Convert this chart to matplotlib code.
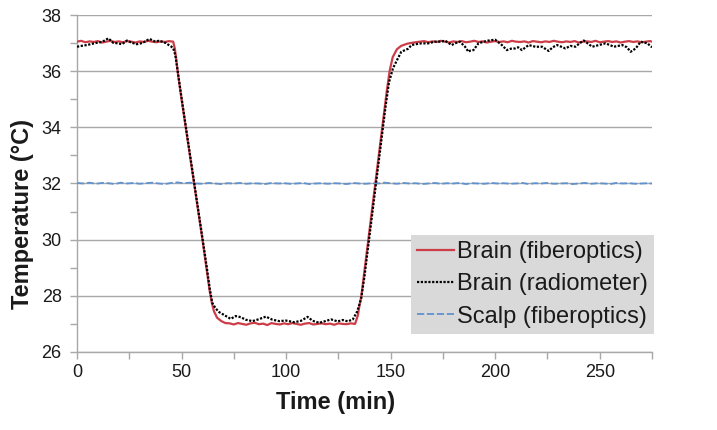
import numpy as np
import matplotlib
matplotlib.use("Agg")
import matplotlib.pyplot as plt

plt.rcParams['font.family'] = ['Liberation Sans', 'DejaVu Sans']

# ---------------- data ----------------
# Brain (fiberoptics)
fib_plateau1_t = list(range(0, 47, 2))
fib_plateau1_T = [37.05, 37.08, 37.03, 37.06, 37.04, 37.07, 37.02, 37.05, 37.08, 37.04,
                  37.06, 37.03, 37.07, 37.05, 37.02, 37.06, 37.04, 37.08, 37.05, 37.03,
                  37.06, 37.04, 37.07, 37.05]
fib_down_t = [46.8, 47.5, 48.2, 50, 52, 54, 56, 58, 60, 62, 63.5, 64.5, 65.5, 67, 69, 71]
fib_down_T = [36.8, 36.4, 35.95, 35.0, 34.0, 33.0, 32.0, 31.0, 30.0, 28.95, 28.15, 27.75,
              27.45, 27.22, 27.1, 27.03]
fib_bottom_t = list(range(73, 134, 2))
fib_bottom_T = [27.02, 26.98, 27.03, 27.0, 26.97, 27.02, 27.04, 26.99, 27.01, 26.96,
                27.03, 27.0, 26.98, 27.02, 26.99, 27.03, 27.0, 26.97, 27.01, 27.03,
                26.98, 27.0, 27.02, 26.99, 27.01, 26.97, 27.02, 27.0, 26.99, 27.02, 27.0]
fib_up_t = [134.3, 135.2, 136, 138, 140, 142, 144, 146, 148, 149.5, 151, 153, 155, 158, 161]
fib_up_T = [27.3, 27.7, 28.0, 29.2, 30.4, 31.6, 32.8, 34.0, 35.2, 36.0, 36.5, 36.78, 36.9,
            36.98, 37.02]
fib_plateau2_t = list(range(164, 275, 2)) + [275]
fib_plateau2_T = [37.05, 37.07, 37.03, 37.06, 37.04, 37.08, 37.05, 37.02, 37.06, 37.04,
                  37.07, 37.03, 37.05, 37.08, 37.04, 37.06, 37.02, 37.05, 37.07, 37.04,
                  37.06, 37.03, 37.08, 37.05, 37.04, 37.06, 37.02, 37.07, 37.05, 37.03,
                  37.06, 37.04, 37.08, 37.05, 37.03, 37.06, 37.04, 37.07, 37.02, 37.05,
                  37.06, 37.04, 37.08, 37.03, 37.05, 37.07, 37.04, 37.06, 37.02, 37.05,
                  37.07, 37.04, 37.06, 37.03, 37.05, 37.07, 37.05]

# Brain (radiometer)
rad_t = [0, 2, 4.7, 7, 9.5, 12, 14.3, 15, 17.3, 19.5, 21.5, 23.9, 26.3, 28.7, 30.5, 31.9,
         33.5, 34.7, 36, 37.5, 39, 40.7, 42.5, 43.9, 45, 46, 47, 48.2, 50, 52, 54, 56, 58,
         60, 62, 63.5, 64.7, 66.3, 68, 70.3, 73.5, 75.9, 78.3, 80.7, 83.9, 87.1, 90.3, 93.5,
         96.7, 99.9, 103.9, 107.1, 110.3, 112.7, 115.9, 118.3, 121.5, 124.7, 127.1, 129.5,
         131.9, 134, 135.9, 137.5, 139.5, 141.5, 143.5, 145.5, 147.5, 149.2, 151.1, 153.5,
         155.1, 158.4, 160, 162, 164.7, 168, 171.1, 174.3, 176, 179.2, 180.7, 183.1, 185.6,
         187.2, 188, 189.6, 192, 194.5, 196.8, 200, 203.2, 205.6, 207.5, 209.6, 211, 212.8,
         216, 219.2, 222.4, 225.6, 227.5, 229.6, 233.6, 236, 238.4, 240.5, 242.4, 246.4,
         249.6, 252.8, 256.8, 260.8, 263, 264.8, 267.2, 269.6, 272.8, 275]
rad_T = [36.87, 36.9, 36.93, 36.97, 37.01, 37.04, 37.14, 37.17, 37.01, 36.99, 36.96, 37.09,
         37.01, 36.96, 36.99, 37.03, 37.1, 37.15, 37.1, 37.05, 37.08, 37.05, 37.0, 36.93,
         36.88, 36.82, 36.58, 35.98, 35.05, 34.05, 33.05, 32.05, 31.05, 30.05, 29.05, 28.25,
         27.75, 27.55, 27.42, 27.32, 27.18, 27.28, 27.24, 27.15, 27.1, 27.17, 27.26, 27.15,
         27.1, 27.12, 27.06, 27.11, 27.25, 27.11, 27.04, 27.09, 27.16, 27.09, 27.14, 27.09,
         27.16, 27.44, 27.9, 28.7, 29.9, 31.1, 32.3, 33.5, 34.7, 35.6, 36.1, 36.46, 36.69,
         36.8, 36.93, 36.96, 36.99, 36.99, 37.05, 37.05, 37.09, 36.93, 36.99, 37.05, 36.87,
         36.69, 36.73, 36.75, 36.99, 37.05, 37.09, 37.12, 36.93, 36.75, 36.8, 36.81, 36.85,
         36.75, 36.93, 36.87, 36.87, 36.72, 36.85, 36.93, 36.81, 36.9, 36.87, 37.0, 37.09,
         36.87, 36.93, 36.99, 36.87, 36.93, 36.85, 36.69, 36.81, 37.05, 36.99, 36.85]

# Scalp (fiberoptics)
scalp_t = list(range(0, 274, 3)) + [275]
scalp_T = [32.02, 32.0, 32.03, 31.99, 32.02, 32.01, 31.98, 32.03, 32.0, 32.02,
           31.99, 32.01, 32.03, 32.0, 31.98, 32.02, 32.04, 32.01, 32.03, 32.0,
           31.99, 32.02, 32.0, 31.98, 32.01, 32.0, 32.02, 31.99, 32.01, 32.0,
           31.98, 32.02, 32.0, 32.01, 31.99, 32.0, 32.02, 31.98, 32.0, 32.01,
           31.99, 32.01, 32.0, 31.98, 32.02, 32.0, 31.99, 32.01, 32.0, 32.03,
           32.01, 31.99, 32.02, 32.0, 32.01, 31.98, 32.0, 32.02, 31.99, 32.01,
           32.0, 32.02, 31.98, 32.01, 32.0, 31.99, 32.02, 32.0, 32.01, 31.99,
           32.0, 32.02, 31.98, 32.01, 32.0, 32.02, 31.99, 32.0, 32.01, 31.98,
           32.0, 32.02, 31.99, 32.01, 32.0, 31.98, 32.02, 32.0, 32.01, 31.99,
           32.0, 32.01, 32.0]

labels = ["Brain (fiberoptics)", "Brain (radiometer)", "Scalp (fiberoptics)"]
x_ticks = [0, 50, 100, 150, 200, 250]
y_ticks = [26, 28, 30, 32, 34, 36, 38]

fib_t = fib_plateau1_t + fib_down_t + fib_bottom_t + fib_up_t + fib_plateau2_t
fib_T = fib_plateau1_T + fib_down_T + fib_bottom_T + fib_up_T + fib_plateau2_T

# ---------------- plot ----------------
W, H = 717, 430
fig = plt.figure(figsize=(W / 100, H / 100), dpi=100)
ax = fig.add_axes([77 / W, 1 - 352 / H, 575 / W, 337 / H])

grid_c = '#a8a8a8'
txt_c = '#1a1a1a'

ax.plot(fib_t, fib_T, color='#cc3d48', lw=1.6, label=labels[0], zorder=3)
ax.plot(rad_t, rad_T, color='black', lw=1.6, linestyle=(0, (1, 0.7)), label=labels[1], zorder=4)
ax.plot(scalp_t, scalp_T, color='#5f93d0', lw=1.3, linestyle=(0, (4, 1.5)), label=labels[2], zorder=3)

ax.set_xlim(0, 275)
ax.set_ylim(26, 38)
ax.set_xticks(x_ticks)
ax.set_xticks([25, 75, 125, 175, 225, 275], minor=True)
ax.set_yticks(y_ticks)
ax.set_yticks([27, 29, 31, 33, 35, 37], minor=True)

ax.grid(axis='y', which='major', color=grid_c, lw=1.0)
ax.set_axisbelow(True)
for s in ['top', 'right']:
    ax.spines[s].set_visible(False)
for s in ['left', 'bottom']:
    ax.spines[s].set_color(grid_c)
    ax.spines[s].set_linewidth(1.0)
ax.tick_params(which='both', direction='out', length=5, width=1, color=grid_c,
               labelsize=13, labelcolor=txt_c)
ax.tick_params(axis='y', pad=6)

ax.set_xlabel('Time (min)', fontsize=17, fontweight='bold', color=txt_c)
ax.set_ylabel('Temperature (°C)', fontsize=17, fontweight='bold', color=txt_c)
ax.xaxis.set_label_coords(0.45, -0.115)
ax.yaxis.set_label_coords(-0.075, 0.41)

leg = ax.legend(loc='upper right', bbox_to_anchor=(1.0035, 0.347), frameon=True,
                fontsize=17, handlelength=1.55, handletextpad=0.15, labelspacing=0.44,
                borderpad=0.25, borderaxespad=0.0, fancybox=False)
leg.get_frame().set_facecolor('#d9d9d9')
leg.get_frame().set_edgecolor('none')
leg.get_frame().set_alpha(1)
for t in leg.get_texts():
    t.set_color(txt_c)

fig.savefig('out.png', dpi=100)
